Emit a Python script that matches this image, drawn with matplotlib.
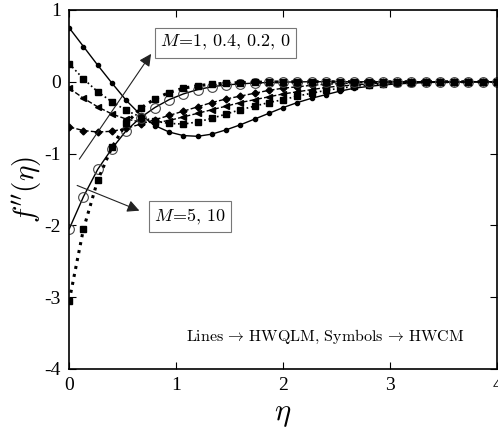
import numpy as np
import matplotlib
matplotlib.use('Agg')
import matplotlib.pyplot as plt

plt.rcParams['font.family'] = ['Liberation Serif', 'DejaVu Serif']
plt.rcParams['mathtext.fontset'] = 'cm'
plt.rcParams['axes.unicode_minus'] = False

# eta grid (31 points, 0..4)
eta = np.linspace(0, 4, 31)

# f''(eta)
f_M0 = [0.75, 0.49, 0.23, -0.02, -0.26, -0.46, -0.61, -0.70, -0.75, -0.76, -0.73,
        -0.67, -0.60, -0.52, -0.44, -0.36, -0.29, -0.23, -0.18, -0.13, -0.09,
        -0.065, -0.045, -0.03, -0.02, -0.012, -0.007, -0.004, -0.002, -0.001, 0.0]
f_M02 = [0.25, 0.04, -0.14, -0.28, -0.40, -0.49, -0.55, -0.58, -0.59, -0.56, -0.51,
         -0.45, -0.39, -0.34, -0.29, -0.25, -0.20, -0.16, -0.12, -0.09, -0.065,
         -0.045, -0.03, -0.02, -0.012, -0.007, -0.004, -0.002, -0.001, 0.0, 0.0]
f_M04 = [-0.09, -0.23, -0.35, -0.45, -0.52, -0.56, -0.57, -0.54, -0.49, -0.44, -0.39,
         -0.34, -0.29, -0.25, -0.21, -0.17, -0.14, -0.11, -0.08, -0.06, -0.045,
         -0.03, -0.02, -0.013, -0.008, -0.005, -0.003, -0.002, -0.001, 0.0, 0.0]
f_M1 = [-0.63, -0.68, -0.70, -0.69, -0.65, -0.59, -0.53, -0.47, -0.41, -0.35, -0.29,
        -0.24, -0.20, -0.16, -0.12, -0.09, -0.07, -0.05, -0.035, -0.025, -0.017,
        -0.011, -0.007, -0.004, -0.002, -0.001, 0.0, 0.0, 0.0, 0.0, 0.0]
f_M5 = [-2.05, -1.60, -1.22, -0.93, -0.68, -0.50, -0.36, -0.25, -0.17, -0.11, -0.07,
        -0.045, -0.03, -0.018, -0.01, -0.005, -0.002, 0.0, 0.0, 0.0, 0.0,
        0.0, 0.0, 0.0, 0.0, 0.0, 0.0, 0.0, 0.0, 0.0, 0.0]
f_M10 = [-3.05, -2.05, -1.37, -0.91, -0.58, -0.37, -0.24, -0.15, -0.09, -0.055, -0.035,
         -0.02, -0.012, -0.007, -0.004, -0.002, -0.001, 0.0, 0.0, 0.0, 0.0,
         0.0, 0.0, 0.0, 0.0, 0.0, 0.0, 0.0, 0.0, 0.0, 0.0]

fig = plt.figure(figsize=(4.98, 4.32), dpi=100)
ax = fig.add_axes([0.139, 0.146, 0.859, 0.831])

k = 'black'
ax.plot(eta, f_M0, '-', color=k, lw=1.0, marker='o', ms=3, mfc=k)
ax.plot(eta, f_M02, ':', color=k, lw=1.2, marker='s', ms=4, mfc=k)
ax.plot(eta, f_M04, '--', color=k, lw=1.0, marker='<', ms=5, mfc=k)
ax.plot(eta, f_M1, '--', color=k, lw=1.0, marker='D', ms=3.5, mfc=k)
ax.plot(eta, f_M5, '-', color=k, lw=1.0, marker='o', ms=7, mfc='none', mec='#444444', mew=0.8)
ax.plot(eta, f_M10, ':', color=k, lw=2.2, marker='s', ms=4, mfc=k)

ax.set_xlim(0, 4)
ax.set_ylim(-4, 1)
ax.set_xticks([0, 1, 2, 3, 4])
ax.set_yticks([-4, -3, -2, -1, 0, 1])
ax.tick_params(direction='in', top=True, right=True, length=5, labelsize=14, pad=6)
for s in ax.spines.values():
    s.set_linewidth(1.2)

ax.set_xlabel(r'$\eta$', fontsize=22)
ax.set_ylabel(r"$f''(\eta)$", fontsize=21, labelpad=0)

box = dict(boxstyle='square,pad=0.3', fc='white', ec='#777777', lw=0.8)
arr = dict(arrowstyle='-|>', color='#222222', lw=0.8, mutation_scale=18)

ax.annotate('', xy=(0.78, 0.42), xytext=(0.08, -1.11), arrowprops=arr)
ax.text(1.46, 0.54, r'$M\!=\!1,\,0.4,\,0.2,\,0$', fontsize=13, ha='center', va='center', bbox=box)

ax.annotate('', xy=(0.68, -1.81), xytext=(0.05, -1.43), arrowprops=arr)
ax.text(1.13, -1.88, r'$M\!=\!5,\,10$', fontsize=13, ha='center', va='center', bbox=box)

ax.text(2.39, -3.55, r'$\mathrm{Lines}\,\rightarrow\,\mathrm{HWQLM},\,\mathrm{Symbols}\,\rightarrow\,\mathrm{HWCM}$',
        fontsize=11.5, ha='center', va='center')

fig.savefig('out.png', dpi=100)
